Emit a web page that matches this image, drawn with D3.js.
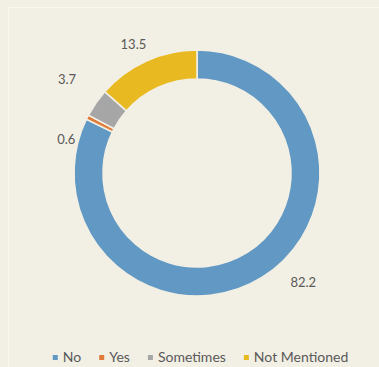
<!DOCTYPE html>
<html>
<head>
<meta charset="utf-8">
<script src="https://cdn.jsdelivr.net/npm/d3@7"></script>
<style>
  html, body { margin: 0; padding: 0; background: #f2efe4; }
  svg { display: block; }
  text { font-family: Lato, "Open Sans", sans-serif; fill: #595959; }
</style>
</head>
<body>
<svg id="chart" width="379" height="367"></svg>
<script>
// Survey responses (percent)
const categories = ["No", "Yes", "Sometimes", "Not Mentioned"];
const values = [82.2, 0.6, 3.7, 13.5];
const colors = ["#6199c4", "#e07a38", "#a6a6a6", "#e9b921"];

const W = 379, H = 367;
const cx = 197, cy = 173;
const outerR = 123, innerR = 94;
const bg = "#f2efe4";

const svg = d3.select("#chart");

// faint plot-area frame
svg.append("rect")
  .attr("x", 8.5).attr("y", 7.5)
  .attr("width", W - 8).attr("height", H)
  .attr("fill", "none")
  .attr("stroke", "#f8f6ef")
  .attr("stroke-width", 1);

const data = categories.map((c, i) => ({ category: c, value: values[i], color: colors[i] }));

const pie = d3.pie().value(d => d.value).sort(null);
const arcs = pie(data);
const arc = d3.arc().innerRadius(innerR).outerRadius(outerR);

const g = svg.append("g").attr("transform", `translate(${cx},${cy})`);

g.selectAll("path")
  .data(arcs)
  .join("path")
  .attr("d", arc)
  .attr("fill", d => d.data.color)
  .attr("stroke", bg)
  .attr("stroke-width", 1.6);

// value labels placed outside the ring, with small manual nudges
const labelR = 140;
const nudges = [[32, -9], [-6, 30], [-15, -14], [-6, -1]];
g.selectAll("text.val")
  .data(arcs)
  .join("text")
  .attr("class", "val")
  .attr("x", (d, i) => labelR * Math.sin((d.startAngle + d.endAngle) / 2) + nudges[i][0])
  .attr("y", (d, i) => -labelR * Math.cos((d.startAngle + d.endAngle) / 2) + nudges[i][1])
  .attr("dy", "0.35em")
  .attr("text-anchor", "middle")
  .attr("font-size", 13)
  .text(d => d3.format(".1f")(d.data.value));

// legend, laid out left to right and centred
const legend = svg.append("g");
const items = legend.selectAll("g")
  .data(data)
  .join("g");
items.append("rect")
  .attr("width", 5).attr("height", 5)
  .attr("y", -7)
  .attr("fill", d => d.color);
items.append("text")
  .attr("x", 10)
  .attr("font-size", 14)
  .text(d => d.category);

let xPos = 0;
const gap = 18;
items.each(function () {
  const w = this.getBBox().width;
  d3.select(this).attr("transform", `translate(${xPos},0)`);
  xPos += w + gap;
});
const total = xPos - gap;
legend.attr("transform", `translate(${(47 + 354) / 2 - total / 2},362)`);
</script>
</body>
</html>
